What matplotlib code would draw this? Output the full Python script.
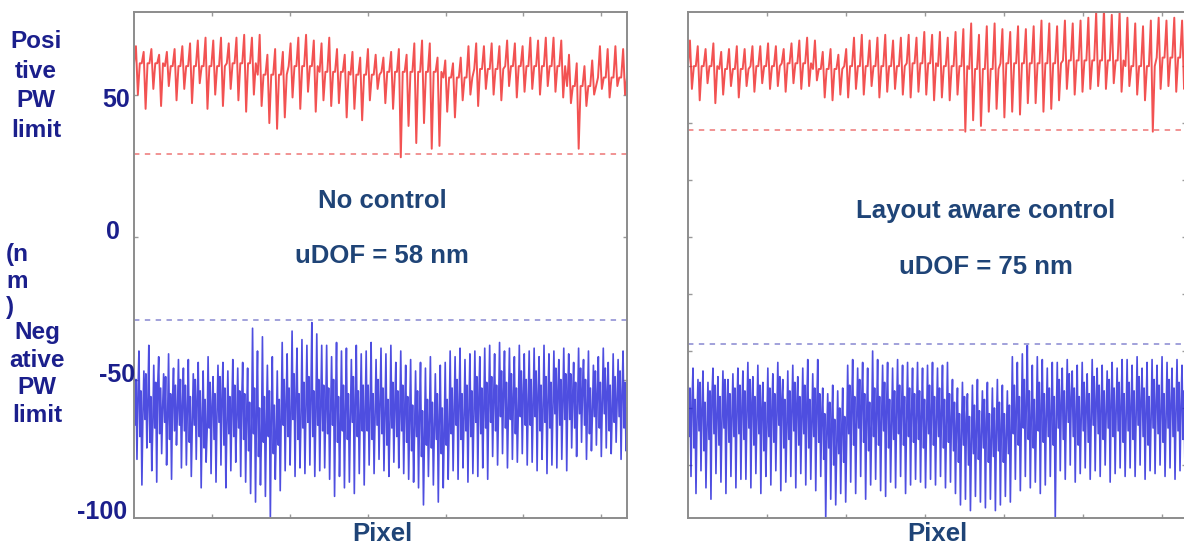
import numpy as np
import matplotlib.pyplot as plt

plt.rcParams['font.family'] = ['Liberation Sans', 'DejaVu Sans']
plt.rcParams['font.weight'] = 'bold'

W, H = 1184, 547

# --- data (nm) ---
# left panel: no control
red_left_peaks = [67, 65, 66, 64, 65, 66,
                  67, 68, 69, 70, 69, 70, 68,
                  70, 71, 70, 71,
                  64, 66, 65,
                  68, 70, 71, 69, 68, 70,
                  66, 64, 65, 63, 66,
                  64, 63, 65, 66, 64,
                  68, 69, 68,
                  63, 62, 61, 63,
                  67, 68, 67,
                  68, 67, 69, 68, 67,
                  70, 69, 70, 70, 69,
                  64, 61, 60, 62,
                  67, 66, 67, 66]
red_left_troughs = [50, 45, 52, 46, 53, 48,
                    52, 47, 54, 45, 50, 46, 52,
                    48, 44, 50, 46,
                    40, 38, 42,
                    49, 45, 51, 44, 48, 46,
                    47, 42, 45, 41, 48,
                    52, 47, 45, 28, 39,
                    33, 40, 31,
                    32, 44, 42, 48,
                    50, 46, 52,
                    50, 48, 53, 49, 51,
                    52, 50, 53, 51, 49,
                    47, 31, 46, 50,
                    52, 49, 53, 50]
red_left_band = [61, 60, 60, 61, 57, 60, 58, 57, 58, 58, 56, 59, 60, 60, 53, 56]

blue_left_peaks = [-44, -40, -47, -38, -45, -42, -48, -41, -46, -43,
                   -46, -43, -48, -44, -47, -42, -49, -45, -44, -47, -43, -46,
                   -44, -46, -32, -40, -35, -45, -42, -47,
                   -37, -41, -33, -39, -36, -38, -30, -34, -38,
                   -38, -42, -37, -40, -39, -43, -38, -41,
                   -40, -37, -43, -39, -41, -38, -44, -40,
                   -45, -43, -47, -44, -46, -42, -48, -45, -44,
                   -40, -42, -39, -43, -41, -40, -42, -39,
                   -38, -41, -37, -40, -39, -42, -38, -41,
                   -40, -39, -42, -38, -41, -40, -43, -39,
                   -41, -44, -39, -43, -40, -45, -42, -39, -44, -41, -43, -40]
blue_left_troughs = [-78, -87, -74, -82, -86, -76, -80, -85, -73, -81,
                     -80, -84, -78, -88, -79, -83, -86, -80, -88, -82, -79, -84,
                     -86, -90, -93, -87, -91, -99, -85, -89,
                     -82, -80, -84, -81, -83, -80, -84, -82, -81,
                     -85, -91, -84, -88, -86, -90, -83, -87,
                     -80, -83, -78, -82, -84, -79, -81, -83,
                     -85, -86, -88, -94, -84, -87, -93, -88, -85,
                     -82, -85, -81, -86, -83, -84, -81, -85,
                     -77, -80, -76, -81, -78, -79, -76, -80,
                     -79, -82, -78, -83, -80, -81, -78, -82,
                     -74, -77, -72, -78, -75, -73, -77, -74, -76, -72, -78, -75]
blue_left_mid = [-55, -62, -58, -66, -52, -60, -64, -57, -61, -59,
                 -60, -65, -57, -63, -68, -59, -62, -56, -66, -61, -64, -58,
                 -63, -68, -60, -70, -65, -62, -69, -64,
                 -58, -62, -55, -64, -60, -57, -63, -59, -61,
                 -62, -58, -66, -60, -64, -57, -63, -61,
                 -60, -64, -58, -62, -66, -59, -63, -61,
                 -64, -68, -62, -70, -65, -67, -63, -69, -66,
                 -61, -58, -64, -60, -63, -57, -62, -59,
                 -57, -60, -54, -59, -56, -61, -55, -58,
                 -58, -55, -61, -57, -60, -54, -59, -56,
                 -56, -60, -53, -58, -62, -55, -59, -54, -61, -57, -55, -60]
blue_left_core_hi = [-50, -54, -48, -56, -51, -53, -49, -55, -52, -50,
                     -52, -56, -50, -54, -57, -51, -55, -49, -53, -56, -52, -54,
                     -55, -58, -53, -60, -56, -54, -59, -57,
                     -50, -53, -48, -55, -51, -49, -54, -50, -52,
                     -53, -50, -56, -52, -55, -49, -54, -52,
                     -52, -55, -50, -53, -57, -51, -54, -52,
                     -56, -59, -54, -61, -57, -58, -55, -60, -57,
                     -53, -50, -55, -52, -54, -49, -53, -51,
                     -49, -52, -47, -51, -48, -53, -47, -50,
                     -50, -47, -52, -49, -51, -46, -50, -48,
                     -48, -51, -46, -50, -53, -47, -51, -46, -52, -49, -47, -51]
blue_left_core_lo = [-66, -70, -64, -72, -67, -69, -65, -71, -68, -66,
                     -68, -72, -66, -70, -74, -67, -71, -65, -73, -69, -70, -67,
                     -71, -75, -69, -77, -72, -70, -76, -73,
                     -66, -70, -64, -71, -67, -65, -70, -66, -68,
                     -69, -66, -72, -68, -71, -65, -70, -68,
                     -68, -71, -66, -69, -73, -67, -70, -68,
                     -72, -75, -70, -77, -73, -74, -71, -76, -73,
                     -69, -66, -71, -68, -70, -65, -69, -67,
                     -65, -68, -63, -67, -64, -69, -63, -66,
                     -66, -63, -68, -65, -67, -62, -66, -64,
                     -64, -67, -62, -66, -69, -63, -67, -62, -68, -65, -63, -67]

# right panel: layout aware control
red_right_peaks = [69, 67, 66, 68, 65, 66, 67,
                   66, 67, 67, 68, 67, 66, 68, 69,
                   70, 69,
                   65, 66, 64, 66,
                   70, 71, 69, 70, 71, 69, 70, 71, 70,
                   72, 71, 72, 70, 72,
                   73, 75, 71, 74,
                   75, 73, 72, 74, 73,
                   74, 76, 75, 74,
                   76, 75, 76, 77,
                   79, 80, 78, 79, 77,
                   75, 74, 76,
                   77, 76, 77, 76]
red_right_troughs = [52, 48, 54, 47, 50, 53, 49,
                     53, 51, 54, 52, 53, 51, 54, 52,
                     53, 55,
                     49, 48, 50, 49,
                     52, 50, 53, 49, 51, 52, 50, 49, 51,
                     50, 48, 49, 48, 50,
                     37, 41, 39, 44,
                     45, 42, 44, 43, 47,
                     47, 44, 45, 48,
                     52, 50, 51, 52,
                     53, 52, 54, 51, 53,
                     50, 48, 37,
                     52, 53, 51, 52]
red_right_band = [60, 59, 60, 61, 59, 60, 60, 61, 60, 59, 61, 61, 62, 62, 60, 63]

blue_right_peaks = [-48, -46, -50, -47, -51, -46, -49, -47, -50, -48, -46,
                    -47, -44, -49, -45, -51, -46, -48, -44, -50, -47, -45, -49, -46, -43, -48, -43,
                    -53, -55, -52, -54, -53,
                    -45, -43, -46, -44, -46, -40, -43, -45, -44, -46, -43, -45, -44, -46,
                    -44, -46, -45, -44, -46, -45, -44,
                    -50, -53, -51, -55, -52, -50, -54, -51, -53, -50, -52, -54,
                    -42, -44, -41, -38, -45, -42, -43, -46, -44,
                    -44, -46, -43, -47, -45, -44, -48, -43, -46, -45, -47, -44, -46, -43,
                    -43, -45, -42, -46, -44, -43, -45, -42, -44, -46, -43, -45]
blue_right_troughs = [-84, -90, -82, -88, -92, -83, -86, -90, -84, -88, -85,
                      -85, -88, -83, -90, -84, -87, -82, -89, -86, -84, -88, -83, -87, -85, -89, -84,
                      -99, -92, -94, -90, -93,
                      -86, -90, -84, -92, -87, -85, -89, -91, -86, -88, -84, -90, -87, -85,
                      -86, -88, -85, -87, -84, -88, -86,
                      -90, -94, -92, -96, -91, -93, -95, -92, -96, -94, -91, -93,
                      -85, -89, -84, -88, -86, -90, -87, -84, -99,
                      -82, -85, -80, -86, -83, -81, -85, -82, -84, -80, -86, -83, -81, -84,
                      -81, -84, -80, -85, -82, -83, -80, -84, -81, -85, -82, -83]
blue_right_mid = [-58, -64, -60, -67, -56, -62, -65, -59, -63, -61, -60,
                  -62, -58, -65, -60, -67, -61, -63, -57, -66, -62, -59, -64, -60, -66, -61, -63,
                  -70, -66, -73, -68, -71,
                  -60, -65, -58, -63, -67, -61, -64, -59, -66, -62, -60, -65, -61, -63,
                  -62, -66, -60, -64, -61, -65, -63,
                  -66, -70, -64, -72, -67, -69, -65, -71, -68, -66, -70, -67,
                  -60, -64, -58, -62, -66, -59, -63, -61, -65,
                  -58, -62, -56, -61, -64, -59, -63, -57, -60, -62, -58, -61, -59, -63,
                  -59, -62, -57, -61, -64, -58, -60, -63, -58, -61, -59, -62]
blue_right_core_hi = [-53, -57, -51, -58, -54, -52, -56, -50, -55, -53, -52,
                      -54, -50, -56, -52, -58, -53, -55, -49, -57, -54, -51, -56, -52, -57, -53, -55,
                      -62, -58, -64, -60, -63,
                      -52, -56, -50, -55, -58, -53, -56, -51, -57, -54, -52, -56, -53, -55,
                      -54, -57, -52, -56, -53, -57, -55,
                      -58, -62, -56, -63, -59, -61, -57, -62, -60, -58, -62, -59,
                      -52, -56, -50, -54, -57, -51, -55, -53, -56,
                      -50, -54, -48, -53, -56, -51, -55, -49, -52, -54, -50, -53, -51, -55,
                      -51, -54, -49, -53, -56, -50, -52, -55, -50, -53, -51, -54]
blue_right_core_lo = [-70, -74, -68, -75, -71, -69, -73, -67, -72, -70, -69,
                      -71, -67, -73, -69, -75, -70, -72, -66, -74, -71, -68, -73, -69, -74, -70, -72,
                      -78, -74, -80, -76, -79,
                      -69, -73, -67, -72, -75, -70, -73, -68, -74, -71, -69, -73, -70, -72,
                      -71, -74, -69, -73, -70, -74, -72,
                      -75, -79, -73, -80, -76, -78, -74, -79, -77, -75, -79, -76,
                      -69, -73, -67, -71, -74, -68, -72, -70, -73,
                      -67, -71, -65, -70, -73, -68, -72, -66, -69, -71, -67, -70, -68, -72,
                      -68, -71, -66, -70, -73, -67, -69, -72, -67, -70, -68, -71]

limits_left = (29, -29)
limits_right = (37.5, -37.5)
titles = [("No control", "uDOF = 58 nm"), ("Layout aware control", "uDOF = 75 nm")]
ytick_labels = ['50', '0', '-50', '-100']

NAVY = '#1b1f8c'
SLATE = '#1f4477'


def red_trace(peaks, troughs, band):
    # each spike: band -> peak -> trough -> band
    n = len(peaks)
    seq = []
    for i in range(n):
        b = band[i * len(band) // n]
        seq += [b, peaks[i], troughs[i], b]
    return np.array(seq, dtype=float)


def blue_trace(peaks, troughs, mid, core_hi, core_lo):
    # peak -> core bottom -> core top -> trough -> back into the core
    seq = []
    for p, t, m, hi, lo in zip(peaks, troughs, mid, core_hi, core_lo):
        seq += [p, lo, hi, t, m]
    return np.array(seq, dtype=float)


def px(x, y):
    return x / W, 1 - y / H


fig = plt.figure(figsize=(W / 100, H / 100), dpi=100)
ax1 = fig.add_axes([134 / W, 1 - 518 / H, 493 / W, 506 / H])
ax2 = fig.add_axes([688 / W, 1 - 518 / H, 498 / W, 506 / H])

panels = [
    (ax1, 633, red_left_peaks, red_left_troughs, red_left_band,
     (blue_left_peaks, blue_left_troughs, blue_left_mid, blue_left_core_hi, blue_left_core_lo),
     limits_left, [-50, 0, 50]),
    (ax2, 630, red_right_peaks, red_right_troughs, red_right_band,
     (blue_right_peaks, blue_right_troughs, blue_right_mid, blue_right_core_hi, blue_right_core_lo),
     limits_right, list(range(-80, 80, 20))),
]

for ax, xmax, rp, rt, rb, bdata, lim, yt in panels:
    red = red_trace(rp, rt, rb)
    blue = blue_trace(*bdata)
    ax.plot(np.linspace(0, xmax, len(red)), red, color='#f02c2c', lw=1.4, alpha=0.82)
    ax.plot(np.linspace(0, xmax, len(blue)), blue, color='#1c1cd8', lw=1.2, alpha=0.78)
    ax.axhline(lim[0], color='#f08a8a', lw=1.3, ls=(0, (3, 3)))
    ax.axhline(lim[1], color='#9a9ad8', lw=1.3, ls=(0, (3, 3)))
    ax.set_xlim(0, xmax)
    ax.set_ylim(-98.6, 79)
    ax.set_xticks(range(100, xmax, 100))
    ax.set_yticks(yt)
    ax.tick_params(direction='in', length=3, color='#999999', width=1,
                   top=True, right=True, labelbottom=False, labelleft=False)
    for s in ax.spines.values():
        s.set_color('#8c8c8c')
        s.set_linewidth(1.4)

# text in the panels
for (t1, t2), cx, y1, y2 in [(titles[0], 382, 201, 256), (titles[1], 986, 211, 267)]:
    fig.text(*px(cx, y1), t1, ha='center', va='center', fontsize=18.5, color=SLATE)
    fig.text(*px(cx, y2), t2, ha='center', va='center', fontsize=18.5, color=SLATE)

for cx in (382, 937):
    fig.text(*px(cx, 534), "Pixel", ha='center', va='center', fontsize=18.5, color=SLATE,
             bbox=dict(facecolor='white', edgecolor='none', pad=1.5))

# y axis labels
fig.text(*px(36, 86), "Posi\ntive\nPW\nlimit", ha='center', va='center',
         fontsize=17.5, color=NAVY, linespacing=1.36)
fig.text(*px(37, 374), "Neg\native\nPW\nlimit", ha='center', va='center',
         fontsize=17.5, color=NAVY, linespacing=1.27)
fig.text(*px(6, 281), "(n\nm\n)", ha='left', va='center',
         fontsize=17.5, color=NAVY, linespacing=1.22)

for lab, xr, yc in zip(ytick_labels, [130, 120, 135, 127], [100, 232, 375, 512]):
    fig.text(*px(xr, yc), lab, ha='right', va='center', fontsize=18, color=NAVY)

fig.savefig('out.png', dpi=100)
